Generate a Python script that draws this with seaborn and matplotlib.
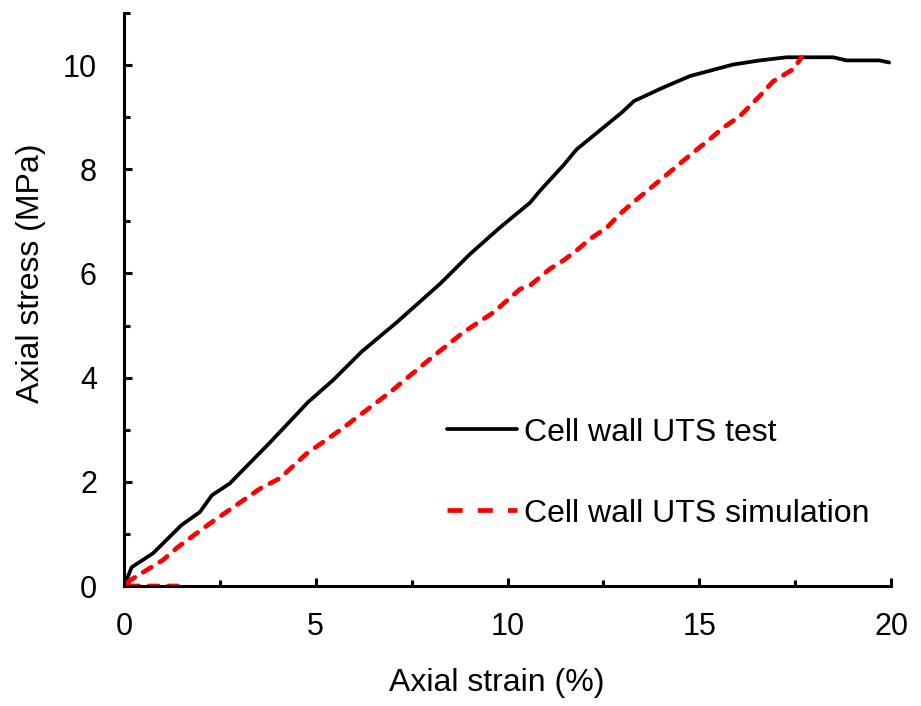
import matplotlib
matplotlib.use("Agg")
import matplotlib.pyplot as plt
import seaborn as sns
import numpy as np
from matplotlib.ticker import MultipleLocator

# --- data ---
test_strain = [0, 0.2, 0.76, 1.5, 1.98, 2.29, 2.76, 3.8, 4.8, 5.45, 6.2, 7.11, 7.46,
               8.24, 9.02, 9.8, 10.59, 10.85, 11.45, 11.8, 12.98, 13.3, 14.0, 14.76,
               15.88, 16.58, 17.28, 18.49, 18.84, 19.7, 19.95]
test_stress = [0, 0.36, 0.63, 1.17, 1.42, 1.74, 1.97, 2.75, 3.53, 3.95, 4.5, 5.06, 5.29,
               5.8, 6.37, 6.88, 7.36, 7.59, 8.07, 8.38, 9.09, 9.31, 9.55, 9.79,
               10.01, 10.09, 10.15, 10.15, 10.09, 10.09, 10.05]

sim_strain = [1.4, 0, 0.16, 1.02, 1.41, 2.24, 3.55, 4.07, 4.76, 5.63, 6.94, 7.72, 8.15,
              8.85, 9.63, 10.33, 10.59, 11.11, 11.46, 11.8, 12.15, 12.59, 12.93, 13.27,
              14.06, 14.84, 15.28, 15.63, 16.06, 16.58, 16.93, 17.45, 17.67]
sim_stress = [0, 0, 0.11, 0.5, 0.75, 1.2, 1.87, 2.07, 2.54, 2.99, 3.72, 4.2, 4.46,
              4.87, 5.25, 5.7, 5.77, 6.09, 6.25, 6.44, 6.66, 6.88, 7.14, 7.36,
              7.84, 8.32, 8.58, 8.8, 9.02, 9.41, 9.69, 9.92, 10.15]

labels = ["Cell wall UTS test", "Cell wall UTS simulation"]
x_label = "Axial strain (%)"
y_label = "Axial stress (MPa)"

sns.set_style("ticks")
plt.rcParams['font.family'] = ['Liberation Sans', 'DejaVu Sans']
plt.rcParams['text.color'] = 'black'
plt.rcParams['axes.labelcolor'] = 'black'

FS = 23
TFS = 22

fig = plt.figure(figsize=(9.21, 7.06), dpi=100)
ax = fig.add_axes([124/921, 1-586/706, (891-124)/921, (586-13)/706])

sns.lineplot(x=test_strain, y=test_stress, ax=ax, color="black", lw=2.7,
             sort=False, estimator=None, label=labels[0])
sns.lineplot(x=sim_strain, y=sim_stress, ax=ax, color="#FF0000", lw=3.4,
             sort=False, estimator=None, label=labels[1])
ax.lines[1].set_dashes((2.0, 2.1))
ax.lines[1].set_dash_capstyle('round')

ax.set_xlim(0, 20)
ax.set_ylim(0, 11)
ax.xaxis.set_major_locator(MultipleLocator(5))
ax.xaxis.set_minor_locator(MultipleLocator(2.5))
ax.yaxis.set_major_locator(MultipleLocator(2))
ax.yaxis.set_minor_locator(MultipleLocator(1))

for s in ["top", "right"]:
    ax.spines[s].set_visible(False)
for s in ["left", "bottom"]:
    ax.spines[s].set_linewidth(2.2)
    ax.spines[s].set_color("black")

ax.tick_params(which="major", direction="in", length=6, width=2.2, labelsize=TFS,
               colors="black")
ax.tick_params(which="minor", direction="in", length=4, width=2.2, colors="black")
ax.tick_params(axis="x", which="major", pad=18.5)
ax.tick_params(axis="y", which="major", pad=19.5)

ax.set_xlabel(x_label, fontsize=FS, va="top", color="black")
ax.set_ylabel(y_label, fontsize=FS, color="black")
ax.xaxis.set_label_coords(0.486, -0.143)
ax.yaxis.set_label_coords(-0.102, 0.545)

leg = ax.legend(loc="center left", bbox_to_anchor=(0.421, 0.197), frameon=False,
                fontsize=FS, handlelength=2.2, handletextpad=0.22, labelspacing=1.6,
                borderpad=0, borderaxespad=0)
for t in leg.get_texts():
    t.set_color("black")
leg.get_lines()[1].set_dashes((3.2, 3.2))
leg.get_lines()[1].set_dash_capstyle('butt')

fig.savefig("out.png", dpi=100)
